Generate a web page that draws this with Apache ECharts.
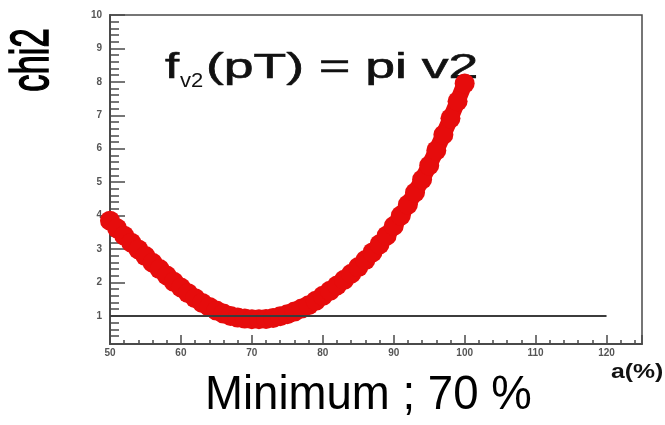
<!DOCTYPE html>
<html>
<head>
<meta charset="utf-8">
<script src="https://cdn.jsdelivr.net/npm/echarts@6/dist/echarts.min.js"></script>
<style>
  html, body { margin: 0; padding: 0; background: #fff; }
  #chart { width: 665px; height: 425px; }
</style>
</head>
<body>
<div id="chart"></div>
<script>
// scan parameter a (%) and the chi2 obtained at each step
const aValues = [
  50, 51, 52, 53, 54, 55, 56, 57, 58, 59,
  60, 61, 62, 63, 64, 65, 66, 67, 68, 69,
  70, 71, 72, 73, 74, 75, 76, 77, 78, 79,
  80, 81, 82, 83, 84, 85, 86, 87, 88, 89,
  90, 91, 92, 93, 94, 95, 96, 97, 98, 99, 100
];
const chi2Values = [
  3.85, 3.62, 3.40, 3.19, 2.99, 2.79, 2.59, 2.40, 2.21, 2.02,
  1.85, 1.68, 1.53, 1.39, 1.27, 1.16, 1.07, 1.00, 0.95, 0.92,
  0.90, 0.90, 0.91, 0.94, 0.99, 1.05, 1.13, 1.22, 1.32, 1.45,
  1.60, 1.75, 1.91, 2.08, 2.26, 2.46, 2.67, 2.90, 3.14, 3.40,
  3.69, 4.00, 4.33, 4.69, 5.08, 5.50, 5.95, 6.42, 6.91, 7.42, 7.95
];
// reference level chi2 = 1
const refLineA = [50, 120];
const refLineChi2 = [1, 1];

// axis ticks and labels
const xTickValues = [50, 60, 70, 80, 90, 100, 110, 120];
const yTickValues = [1, 2, 3, 4, 5, 6, 7, 8, 9, 10];
const yMinorTickValues = [];
for (let v = 2; v < 100; v++) {
  if (v % 5 !== 0) yMinorTickValues.push(v / 5);
}

const axisColor = '#4a4a4a';
const fontFamily = 'Arial, Liberation Sans, sans-serif';
const labelFont = { fontSize: 10, fontWeight: 'bold', color: '#555', fontFamily: fontFamily };
const markerRed = '#e60c0c';

const chart = echarts.init(document.getElementById('chart'), null, { renderer: 'canvas' });

chart.setOption({
  animation: false,
  backgroundColor: '#fff',
  grid: {
    left: 110, top: 15, right: 23, bottom: 81,
    show: true, borderColor: axisColor, borderWidth: 1.5, backgroundColor: 'transparent'
  },
  xAxis: {
    type: 'value',
    min: 50, max: 125, interval: 10,
    axisLine: { show: true, lineStyle: { color: axisColor, width: 2 } },
    axisTick: { show: true, inside: true, length: 9, lineStyle: { color: axisColor, width: 1.5 } },
    minorTick: { show: true, splitNumber: 5, length: 4, lineStyle: { color: axisColor, width: 1.5 } },
    splitLine: { show: false },
    axisLabel: Object.assign({
      margin: 4,
      formatter: v => (xTickValues.indexOf(v) >= 0 ? String(v) : '')
    }, labelFont)
  },
  yAxis: [
    {
      type: 'value', position: 'left',
      min: 0.16, max: 10,
      axisLine: { show: true, lineStyle: { color: axisColor, width: 2 } },
      axisTick: { show: true, inside: true, length: 15, customValues: yTickValues, lineStyle: { color: axisColor, width: 1.5 } },
      splitLine: { show: false },
      axisLabel: Object.assign({ margin: 8, customValues: yTickValues }, labelFont)
    },
    {
      type: 'value', position: 'left',
      min: 0.16, max: 10,
      axisLine: { show: false },
      axisTick: { show: true, inside: true, length: 9, customValues: yMinorTickValues, lineStyle: { color: axisColor, width: 1.5 } },
      splitLine: { show: false },
      axisLabel: { show: false }
    }
  ],
  series: [
    {
      // dense chain of filled circles: a thick stroke through the centres
      // closes the gaps between neighbouring markers
      type: 'line',
      yAxisIndex: 0,
      data: aValues.map((a, i) => [a, chi2Values[i]]),
      symbol: 'circle',
      symbolSize: 20,
      showSymbol: true,
      itemStyle: { color: markerRed, opacity: 1, borderWidth: 0 },
      lineStyle: { color: markerRed, width: 16, cap: 'round', join: 'round' },
      emphasis: { disabled: true },
      z: 2
    },
    {
      type: 'line',
      yAxisIndex: 0,
      data: refLineA.map((a, i) => [a, refLineChi2[i]]),
      symbol: 'none',
      lineStyle: { color: '#3c3c3c', width: 2 },
      z: 3
    }
  ],
  graphic: [
    {
      type: 'text', x: 33, y: 60, rotation: Math.PI / 2, scaleX: 0.64,
      style: { text: 'chi2', fontSize: 54, fontFamily: fontFamily, fill: '#000', stroke: '#000', lineWidth: 1.6, textAlign: 'center', textVerticalAlign: 'middle' }
    },
    {
      type: 'text', x: 165, y: 68, scaleX: 1.45,
      style: { text: 'f', fontSize: 35, fontFamily: fontFamily, fill: '#111', stroke: '#111', lineWidth: 0.6, textAlign: 'left', textVerticalAlign: 'middle' }
    },
    {
      type: 'text', x: 180, y: 81, scaleX: 1.1,
      style: { text: 'v2', fontSize: 20, fontFamily: fontFamily, fill: '#111', textAlign: 'left', textVerticalAlign: 'middle' }
    },
    {
      type: 'text', x: 206, y: 68, scaleX: 1.53,
      style: { text: '(pT) = pi v2', fontSize: 35, fontFamily: fontFamily, fill: '#111', stroke: '#111', lineWidth: 0.6, textAlign: 'left', textVerticalAlign: 'middle' }
    },
    {
      type: 'text', x: 205, y: 395, scaleX: 0.93,
      style: { text: 'Minimum ; 70 %', fontSize: 49, fontFamily: fontFamily, fill: '#000', textAlign: 'left', textVerticalAlign: 'middle' }
    },
    {
      type: 'text', x: 611, y: 372, scaleX: 1.18,
      style: { text: 'a(%)', fontSize: 21, fontWeight: 'bold', fontFamily: fontFamily, fill: '#111', textAlign: 'left', textVerticalAlign: 'middle' }
    }
  ]
});
</script>
</body>
</html>
